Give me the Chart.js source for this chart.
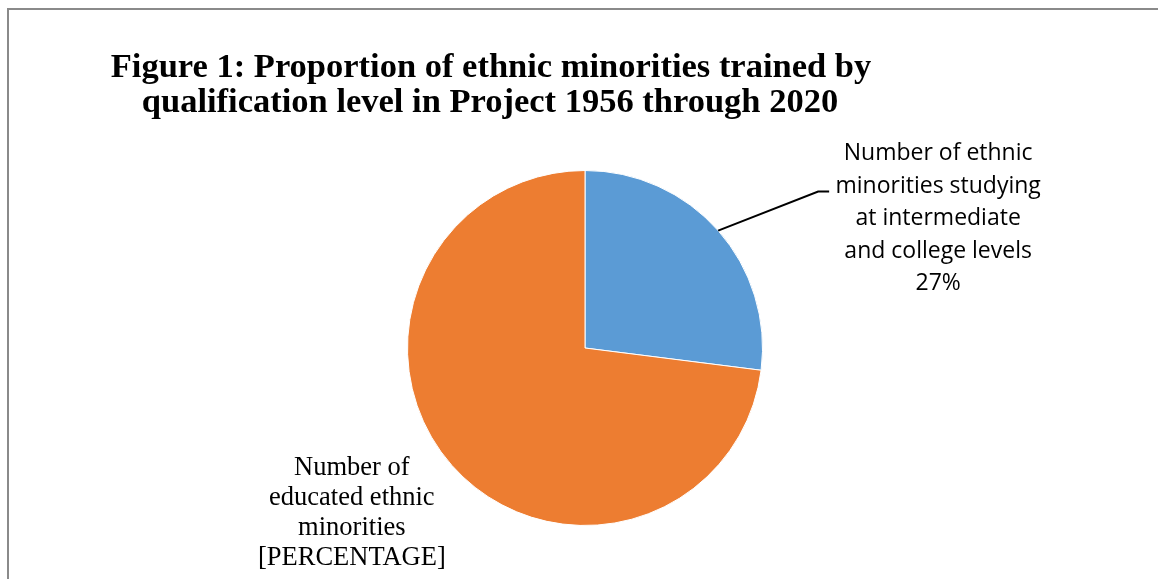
<!DOCTYPE html>
<html>
<head>
<meta charset="utf-8">
<script src="https://cdn.jsdelivr.net/npm/chart.js@4/dist/chart.umd.min.js"></script>
<style>
  html, body { margin: 0; padding: 0; background: #ffffff; }
  #wrap { width: 1158px; height: 579px; position: relative; }
</style>
</head>
<body>
<div id="wrap"><canvas id="c" width="1158" height="579"></canvas></div>
<script>
// ---- data ----
const categories = [
  "Number of ethnic minorities studying at intermediate and college levels",
  "Number of educated ethnic minorities"
];
const values = [27, 73];
const colors = ["#5B9BD5", "#ED7D31"];
const titleLines = [
  "Figure 1: Proportion of ethnic minorities trained by",
  "qualification level in Project 1956 through 2020"
];
const labelLinesBlue = ["Number of ethnic", "minorities studying", "at intermediate", "and college levels", "27%"];
const labelLinesOrange = ["Number of", "educated ethnic", "minorities", "[PERCENTAGE]"];

const decorPlugin = {
  id: 'decor',
  afterDraw(chart) {
    const ctx = chart.ctx;
    ctx.save();
    // outer frame (cropped at right/bottom)
    ctx.strokeStyle = '#8a8a8a';
    ctx.lineWidth = 2;
    ctx.strokeRect(8, 9, 1300, 800);

    // title
    ctx.fillStyle = '#000';
    ctx.font = 'bold 34.5px "Liberation Serif", "Times New Roman", serif';
    ctx.textAlign = 'center';
    ctx.textBaseline = 'alphabetic';
    ctx.fillText(titleLines[0], 491, 77);
    ctx.fillText(titleLines[1], 490, 112);

    const meta = chart.getDatasetMeta(0);
    const arcs = meta.data;

    // blue slice label with leader line
    {
      const a = arcs[0];
      const mid = (a.startAngle + a.endAngle) / 2;
      const px = a.x + Math.cos(mid) * a.outerRadius;
      const py = a.y + Math.sin(mid) * a.outerRadius;
      const ex = px + 100, ey = py - 39;
      ctx.strokeStyle = '#000';
      ctx.lineWidth = 2;
      ctx.beginPath();
      ctx.moveTo(px, py);
      ctx.lineTo(ex, ey);
      ctx.lineTo(ex + 11, ey);
      ctx.stroke();
      ctx.font = '23px "Open Sans", Lato, sans-serif';
      ctx.textBaseline = 'middle';
      ctx.textAlign = 'center';
      const cx = ex + 11 + 109;
      let y = ey - 38;
      labelLinesBlue.forEach((t, i) => ctx.fillText(t, cx, y + i * 32.5));
    }
    // orange slice label (no leader line)
    {
      const a = arcs[1];
      const mid = (a.startAngle + a.endAngle) / 2;
      const px = a.x + Math.cos(mid) * a.outerRadius;
      const py = a.y + Math.sin(mid) * a.outerRadius;
      ctx.font = '26.5px "Liberation Serif", "Times New Roman", serif';
      ctx.textBaseline = 'middle';
      ctx.textAlign = 'center';
      const cx = px - 100;
      let y = py + 3;
      labelLinesOrange.forEach((t, i) => ctx.fillText(t, cx, y + i * 30));
    }
    ctx.restore();
  }
};

new Chart(document.getElementById('c'), {
  type: 'pie',
  data: {
    labels: categories,
    datasets: [{
      data: values,
      backgroundColor: colors,
      borderColor: '#ffffff',
      borderWidth: 1
    }]
  },
  options: {
    responsive: false,
    animation: false,
    layout: { padding: { left: 407, right: 395, top: 170, bottom: 53 } },
    plugins: {
      legend: { display: false },
      tooltip: { enabled: false },
      title: { display: false }
    }
  },
  plugins: [decorPlugin]
});
</script>
</body>
</html>
